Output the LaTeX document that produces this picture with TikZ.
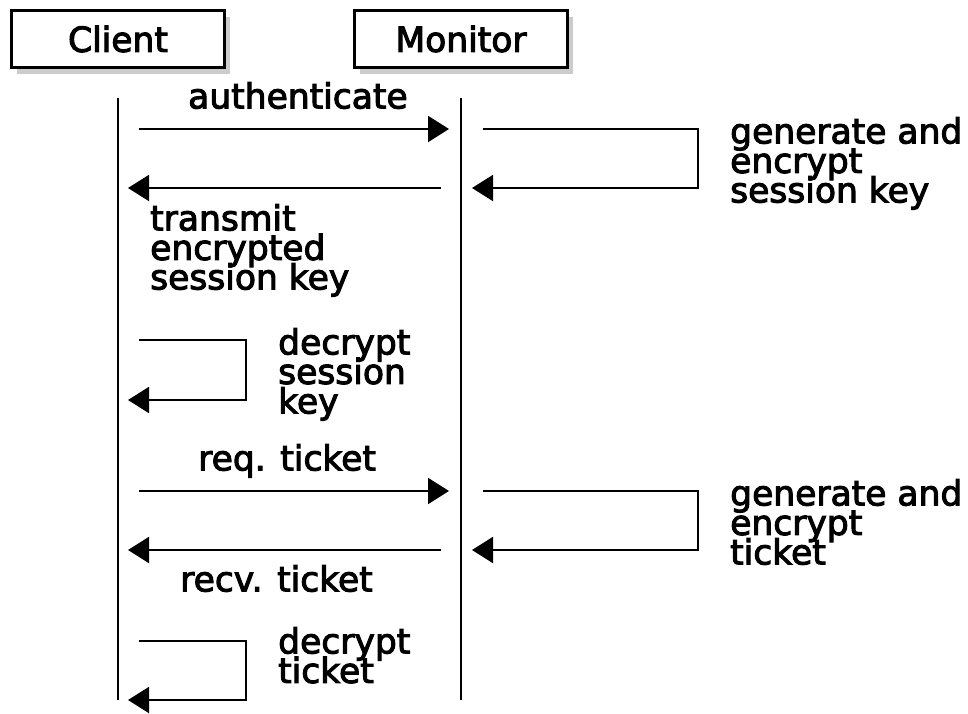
\documentclass[tikz,border=0pt]{standalone}
\usepackage{fontspec}
\setmainfont{DejaVu Sans}[BoldFont=DejaVu Sans,BoldFeatures={FakeBold=3}]
\usetikzlibrary{arrows.meta,shadows}
\lineskiplimit=-100pt

\begin{document}
\begin{tikzpicture}[x=1pt,y=-1pt,
        every node/.style={font={\fontsize{34.5}{29.5}\selectfont\bfseries}},
        actor/.style={draw,line width=2.6pt,fill=white,minimum width=213pt,minimum height=57pt,inner sep=0pt,
            drop shadow={shadow xshift=5pt,shadow yshift=-6pt,opacity=.4}},
        life/.style={line width=2pt},
        msg/.style={line width=2pt,-{Triangle[length=21pt,width=26pt]}},
        note/.style={inner sep=0pt,align=left,anchor=north west}]
        \useasboundingbox (0,0) rectangle (968,713);
        % actors and lifelines
        \node [actor] (client) at (118,39) {Client};
        \node [actor] (monitor) at (461,39) {Monitor};
        \draw [life] (118,98) coordinate (c top) -- (118,700) coordinate (c end);
        \draw [life] (461,98) coordinate (m top) -- (461,700) coordinate (m end);
        % authenticate
        \coordinate (auth from) at (139,129);
        \coordinate (auth to) at (449,129);
        \draw [msg] (auth from) -- (auth to);
        \node [note] (auth) at (188,82) {authenticate};
        % session key on the monitor
        \coordinate (gen a) at (483,129);
        \coordinate (gen b) at (698,129);
        \coordinate (gen c) at (698,188);
        \coordinate (gen d) at (472,188);
        \draw [msg] (gen a) -- (gen b) -- (gen c) -- (gen d);
        \node [note] (gen key) at (730,117) {generate and\\encrypt\\session key};
        % back to the client
        \coordinate (tx from) at (441,188);
        \coordinate (tx to) at (128,188);
        \draw [msg] (tx from) -- (tx to);
        \node [note] (tx) at (150,204) {transmit\\encrypted\\session key};
        % client decrypts the key
        \coordinate (dec a) at (139,340);
        \coordinate (dec b) at (246,340);
        \coordinate (dec c) at (246,400);
        \coordinate (dec d) at (128,400);
        \draw [msg] (dec a) -- (dec b) -- (dec c) -- (dec d);
        \node [note] (dec key) at (278,328) {decrypt\\session\\key};
        % ticket request
        \coordinate (req from) at (139,491);
        \coordinate (req to) at (449,491);
        \draw [msg] (req from) -- (req to);
        \node [note] (req) at (198,444) {req. ticket};
        % ticket on the monitor
        \coordinate (tgen a) at (483,491);
        \coordinate (tgen b) at (698,491);
        \coordinate (tgen c) at (698,550);
        \coordinate (tgen d) at (472,550);
        \draw [msg] (tgen a) -- (tgen b) -- (tgen c) -- (tgen d);
        \node [note] (gen ticket) at (730,479) {generate and\\encrypt\\ticket};
        % ticket back to the client
        \coordinate (recv from) at (441,550);
        \coordinate (recv to) at (128,550);
        \draw [msg] (recv from) -- (recv to);
        \node [note] (recv) at (180,565) {recv. ticket};
        % client decrypts the ticket
        \coordinate (tdec a) at (139,641);
        \coordinate (tdec b) at (246,641);
        \coordinate (tdec c) at (246,700);
        \coordinate (tdec d) at (128,700);
        \draw [msg] (tdec a) -- (tdec b) -- (tdec c) -- (tdec d);
        \node [note] (dec ticket) at (278,627) {decrypt\\ticket};
    \end{tikzpicture}
\end{document}
